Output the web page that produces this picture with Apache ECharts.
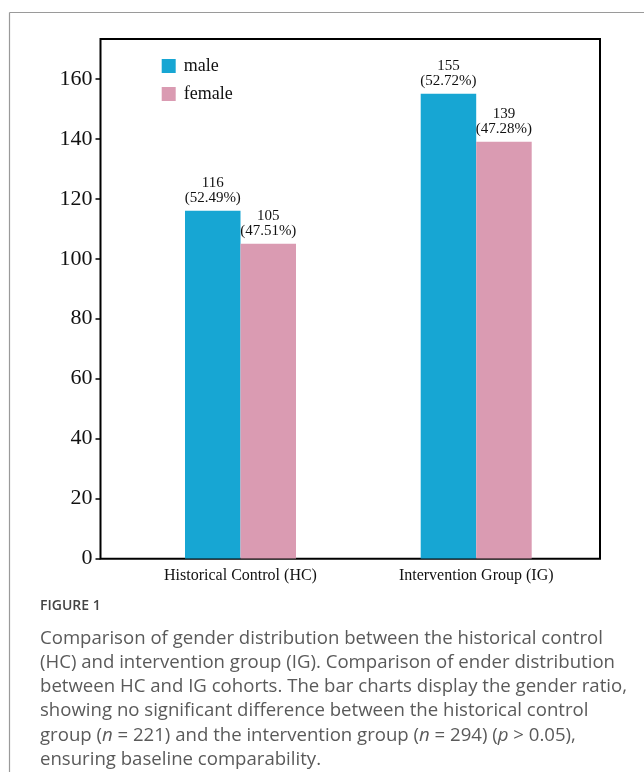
<!DOCTYPE html>
<html>
<head>
<meta charset="utf-8">
<style>
  html, body { margin: 0; padding: 0; background: #ffffff; }
  #chart { width: 644px; height: 776px; }
</style>
<script src="https://cdn.jsdelivr.net/npm/echarts@6/dist/echarts.min.js"></script>
</head>
<body>
<div id="chart"></div>
<script>
// Gender counts per cohort
const categories = ['Historical Control (HC)', 'Intervention Group (IG)'];
const seriesNames = ['male', 'female'];
const maleCounts = [116, 155];
const femaleCounts = [105, 139];
const yTicks = [0, 20, 40, 60, 80, 100, 120, 140, 160];

const totals = maleCounts.map((m, i) => m + femaleCounts[i]);

const serif = '"Liberation Serif", "Times New Roman", serif';
const sans = '"Open Sans", "Noto Sans", sans-serif';

const captionLines = [
  [{ t: 'Comparison of gender distribution between the historical control' }],
  [{ t: '(HC) and intervention group (IG). Comparison of ender distribution' }],
  [{ t: 'between HC and IG cohorts. The bar charts display the gender ratio,' }],
  [{ t: 'showing no significant difference between the historical control' }],
  [{ t: 'group (' }, { t: 'n', s: 'it' }, { t: ' = 221) and the intervention group (' }, { t: 'n', s: 'it' },
   { t: ' = 294) (' }, { t: 'p', s: 'it' }, { t: ' > 0.05),' }],
  [{ t: 'ensuring baseline comparability.' }]
];

function labelFormatter(p) {
  const pct = (p.value / totals[p.dataIndex] * 100).toFixed(2);
  return p.value + '\n(' + pct + '%)';
}

const chart = echarts.init(document.getElementById('chart'), null, { renderer: 'canvas' });

const capSize = 18.6;
const captionGraphics = captionLines.map((segs, i) => {
  const rich = {
    n: { fontFamily: sans, fontSize: capSize, color: '#5a5a5a' },
    it: { fontFamily: sans, fontSize: capSize, color: '#5a5a5a', fontStyle: 'italic' }
  };
  const text = segs.map(s => '{' + (s.s || 'n') + '|' + s.t.replace(/[{}|]/g, '') + '}').join('');
  return {
    type: 'text',
    left: 40,
    top: 629 + i * 24.2,
    style: { text: text, rich: rich, fontFamily: sans, fontSize: capSize, fill: '#5a5a5a' }
  };
});

chart.setOption({
  animation: false,
  backgroundColor: '#ffffff',
  color: ['#17a6d3', '#da9bb2'],
  grid: [
    { left: 122.65, width: 471.4, top: 39, height: 519.5 },
    { left: 100.5, width: 499.5, top: 39, height: 519.7, show: true,
      borderColor: '#000000', borderWidth: 2, backgroundColor: 'transparent' }
  ],
  legend: {
    orient: 'vertical',
    left: 161.7,
    top: 57,
    padding: 0,
    itemWidth: 14,
    itemHeight: 14,
    itemGap: 10,
    icon: 'rect',
    data: seriesNames,
    textStyle: { fontFamily: serif, fontSize: 18, color: '#111111', padding: [0, 0, 0, 3] }
  },
  xAxis: [
    {
      type: 'category',
      gridIndex: 0,
      data: categories,
      axisLine: { show: false },
      axisTick: { show: false },
      axisLabel: { margin: 9, fontFamily: serif, fontSize: 16, color: '#111111' }
    },
    { type: 'value', gridIndex: 1, show: false }
  ],
  yAxis: [
    {
      type: 'value',
      gridIndex: 0,
      min: 0,
      max: 173.3,
      interval: 20,
      offset: 22.15,
      splitLine: { show: false },
      axisLine: { show: false },
      axisTick: { show: true, length: 5, inside: false, lineStyle: { color: '#000000', width: 1.5 } },
      axisLabel: {
        margin: 8,
        fontFamily: serif,
        fontSize: 22,
        color: '#111111',
        showMaxLabel: false,
        formatter: v => (yTicks.indexOf(v) >= 0 ? String(v) : '')
      }
    },
    { type: 'value', gridIndex: 1, show: false }
  ],
  series: [
    {
      name: seriesNames[0],
      type: 'bar',
      xAxisIndex: 0,
      yAxisIndex: 0,
      data: maleCounts,
      barWidth: 55.5,
      barGap: '0%',
      label: {
        show: true, position: 'top', distance: 5,
        formatter: labelFormatter,
        fontFamily: serif, fontSize: 15, lineHeight: 15, color: '#111111', align: 'center'
      }
    },
    {
      name: seriesNames[1],
      type: 'bar',
      xAxisIndex: 0,
      yAxisIndex: 0,
      data: femaleCounts,
      barWidth: 55.5,
      barGap: '0%',
      label: {
        show: true, position: 'top', distance: 5,
        formatter: labelFormatter,
        fontFamily: serif, fontSize: 15, lineHeight: 15, color: '#111111', align: 'center'
      }
    }
  ],
  graphic: [
    // light outer frame around the figure panel
    { type: 'line', shape: { x1: 9.5, y1: 12.5, x2: 644, y2: 12.5 }, style: { stroke: '#9a9a9a', lineWidth: 1.2 } },
    { type: 'line', shape: { x1: 9.5, y1: 12.5, x2: 9.5, y2: 772 }, style: { stroke: '#9a9a9a', lineWidth: 1.2 } },
    {
      type: 'text', left: 40, top: 599,
      style: { text: 'FIGURE 1', fontFamily: sans, fontWeight: 600, fontSize: 14, fill: '#444444' }
    }
  ].concat(captionGraphics)
});
</script>
</body>
</html>
